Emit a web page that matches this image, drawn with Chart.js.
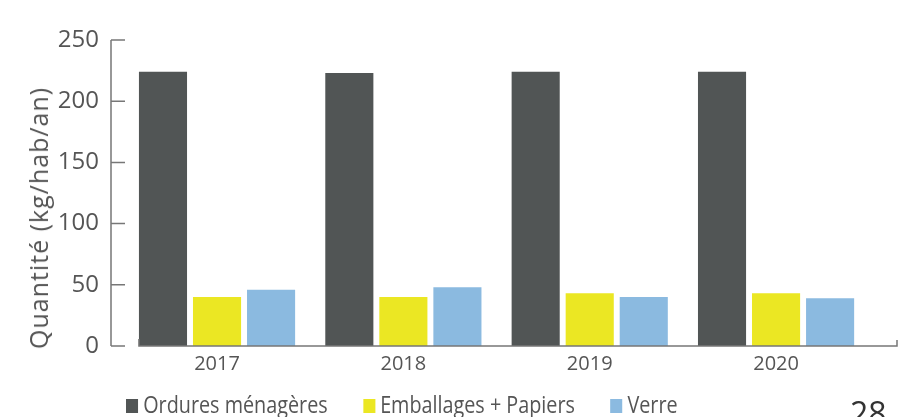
<!DOCTYPE html>
<html lang="fr">
<head>
<meta charset="utf-8">
<script src="https://cdn.jsdelivr.net/npm/chart.js@4"></script>
<style>
  html, body { margin: 0; padding: 0; background: #fff; overflow: hidden; }
  #wrap { position: relative; width: 903px; height: 417px; }
  #yTitle {
    position: absolute; left: 38px; top: 218px;
    transform: translate(-50%, -50%) rotate(-90deg);
    font-family: "Open Sans", sans-serif; font-size: 25px; color: #555;
    letter-spacing: 1px; white-space: nowrap;
  }
  #legend {
    position: absolute; left: 126px; top: 388px;
    font-family: "Open Sans", sans-serif; font-size: 23px; color: #555;
    white-space: nowrap; transform: scaleX(0.86); transform-origin: left top;
  }
  .item { display: inline-flex; align-items: center; margin-right: 41px; }
  .box { display: inline-block; width: 14px; height: 14px; margin-right: 6px; margin-top: 4px; }
  #page {
    position: absolute; left: 850px; top: 391px;
    font-family: "Open Sans", sans-serif; font-size: 32px; color: #333;
  }
</style>
</head>
<body>
<div id="wrap">
  <canvas id="chart"></canvas>
  <div id="yTitle">Quantité (kg/hab/an)</div>
  <div id="legend"></div>
  <div id="page">28</div>
</div>
<script>
// Data
const years = [2017, 2018, 2019, 2020];
const ordures = [224, 223, 224, 224];
const emballages = [40, 40, 43, 43];
const verre = [46, 48, 40, 39];
const seriesNames = ['Ordures ménagères', 'Emballages + Papiers', 'Verre'];
const seriesColors = ['#515555', '#ebe723', '#8bbae0'];
const yTicks = [0, 50, 100, 150, 200, 250];

const axisColor = '#777';
const textColor = '#555';

function points(values) {
  return years.map((yr, i) => ({ x: yr, y: values[i] }));
}

// axes drawn by hand: y ticks point into the plot, x line starts at first bar
const axisPlugin = {
  id: 'axisLines',
  afterDraw(chart) {
    const ctx = chart.ctx;
    const area = chart.chartArea;
    const yScale = chart.scales.y;
    const first = chart.getDatasetMeta(0).data[0];
    const yBottom = yScale.getPixelForValue(0);
    ctx.save();
    ctx.strokeStyle = axisColor;
    ctx.lineWidth = 1.5;
    ctx.beginPath();
    ctx.moveTo(area.left, yScale.getPixelForValue(250));
    ctx.lineTo(area.left, yBottom);
    yTicks.forEach(v => {
      const py = yScale.getPixelForValue(v);
      ctx.moveTo(area.left, py);
      ctx.lineTo(area.left + 14, py);
    });
    const xStart = first.x - first.width / 2;
    ctx.moveTo(xStart, yBottom - 7);
    ctx.lineTo(xStart, yBottom);
    ctx.lineTo(area.right, yBottom);
    ctx.lineTo(area.right, yBottom - 6);
    ctx.stroke();
    ctx.restore();
  }
};

const datasets = [ordures, emballages, verre].map((vals, i) => ({
  label: seriesNames[i],
  data: points(vals),
  backgroundColor: seriesColors[i],
  borderWidth: 0,
  categoryPercentage: 0.87,
  barPercentage: 0.89
}));

new Chart(document.getElementById('chart'), {
  type: 'bar',
  data: { datasets },
  options: {
    responsive: true,
    maintainAspectRatio: false,
    animation: false,
    layout: { padding: { top: 40, right: 6, left: 0, bottom: 0 } },
    plugins: { legend: { display: false }, tooltip: { enabled: false } },
    scales: {
      x: {
        type: 'linear',
        offset: false,
        min: 2016.431,
        max: 2020.649,
        grid: { display: false, drawTicks: false, offset: false },
        border: { display: false },
        afterBuildTicks: scale => { scale.ticks = years.map(v => ({ value: v })); },
        afterFit: scale => { scale.height = 71; },
        ticks: {
          padding: 6,
          color: textColor,
          font: { family: 'Open Sans', size: 20 },
          callback: v => String(v)
        }
      },
      y: {
        min: 0,
        max: 250,
        grid: { display: false, drawTicks: false },
        border: { display: false },
        afterBuildTicks: scale => { scale.ticks = yTicks.map(v => ({ value: v })); },
        afterFit: scale => { scale.width = 111; },
        ticks: {
          padding: 12,
          color: textColor,
          font: { family: 'Open Sans', size: 24 }
        }
      }
    }
  },
  plugins: [axisPlugin]
});

// legend built from the series names
document.getElementById('legend').innerHTML = seriesNames.map((name, i) =>
  `<span class="item"><span class="box" style="background:${seriesColors[i]}"></span>${name}</span>`
).join('');
</script>
</body>
</html>
